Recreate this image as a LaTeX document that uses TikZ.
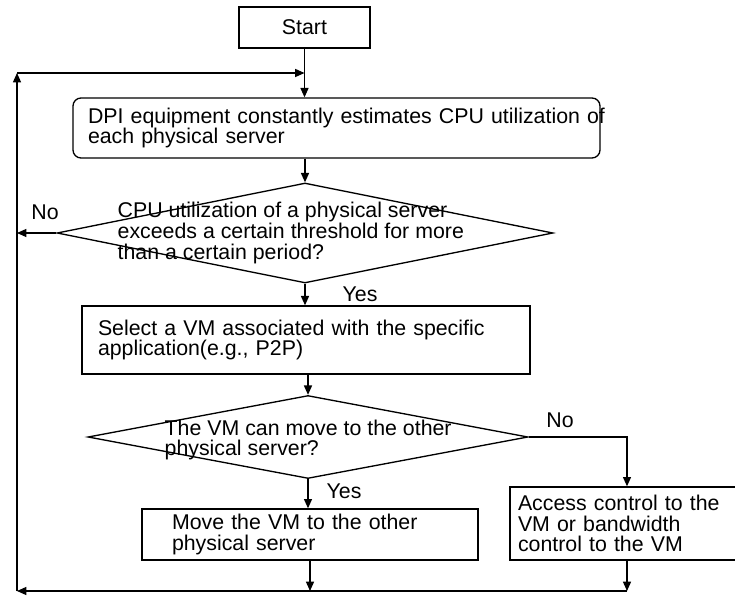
\documentclass[tikz,border=0pt]{standalone}
\usepackage{fontspec}
\setmainfont{Liberation Sans}
\usetikzlibrary{arrows.meta,shapes.geometric}

\tikzset{every picture/.style={line width=1pt}}
\tikzset{
  flowbox/.style={draw, rectangle, align=left, inner ysep=0pt, font=\fontsize{16}{15.5}\selectfont},
  decision/.style={draw, diamond, inner sep=0pt},
  qtext/.style={align=left, inner sep=0pt, anchor=west, font=\fontsize{16}{15.5}\selectfont},
  lbl/.style={inner sep=0pt, font=\fontsize{16}{15.5}\selectfont},
  flow/.style={-{Triangle[length=7pt,width=6pt]}}
}

\begin{document}
\begin{tikzpicture}[x=0.75pt,y=0.75pt,yscale=-1,xscale=1]
	\useasboundingbox (0,0) rectangle (735,598);
	\clip (0,0) rectangle (735,598);

	%Shape: Rectangle [start]
	\node[flowbox, align=center, minimum width=98.25pt, minimum height=30.75pt] (start) at (304.5,27.5) {Start};
	%Shape: Rounded rectangle [dpi]
	\node[flowbox, rounded corners=6pt, text width=372.75pt, inner xsep=11.25pt, minimum height=45pt] (dpi) at (336.5,128) {\mbox{DPI equipment constantly estimates CPU utilization of}\\each physical server};
	%Shape: Diamond [q1]
	\node[decision, minimum width=372pt, minimum height=75pt] (q1) at (305,233) {};
	\node[qtext] (q1txt) at (117,233) {CPU utilization of a physical server\\exceeds a certain threshold for more\\than a certain period?};
	%Shape: Rectangle [select]
	\node[flowbox, text width=312pt, inner xsep=12pt, minimum height=51pt] (select) at (306,340) {Select a VM associated with the specific\\application(e.g., P2P)};
	%Shape: Diamond [q2]
	\node[decision, minimum width=330pt, minimum height=62.25pt] (q2) at (308,437) {};
	\node[qtext] (q2txt) at (164,440) {The VM can move to the other\\physical server?};
	%Shape: Rectangle [move]
	\node[flowbox, text width=207pt, inner xsep=22.5pt, minimum height=38.25pt] (move) at (310,534.5) {Move the VM to the other\\physical server};
	%Shape: Rectangle [access]
	\node[flowbox, text width=163.5pt, inner xsep=6pt, minimum height=54.75pt] (access) at (627,523.5) {Access control to the\\VM or bandwidth\\control to the VM};

	% loop corners
	\coordinate (tl) at (17,73);
	\coordinate (bl) at (17,591);

	%Straight Lines
	\draw[flow] (start.south) -- (start.south |- dpi.north);
	\draw[flow] (tl) -- (tl -| start.south);
	\draw[flow] (bl) -- (tl);
	\draw[flow] (q1 |- dpi.south) -- (q1.north);
	\draw[flow] (q1.west) -- (q1.west -| bl);
	\draw[flow] (q1.south) -- (q1.south |- select.north);
	\draw[flow] (q2 |- select.south) -- (q2.north);
	\draw[flow] (q2.south) -- (q2.south |- move.north);
	\draw[flow] (q2.east) -| (access.north);
	\draw[flow] (move.south) -- (move.south |- bl);
	\draw[flow] (access.south) -- (access.south |- bl);
	\draw[flow] (access.south |- bl) -- (bl);

	% Text Node
	\node[lbl] (no1) at (45,212) {No};
	% Text Node
	\node[lbl] (yes1) at (360,294) {Yes};
	% Text Node
	\node[lbl] (no2) at (560,420) {No};
	% Text Node
	\node[lbl] (yes2) at (344,491) {Yes};

\end{tikzpicture}
\end{document}
